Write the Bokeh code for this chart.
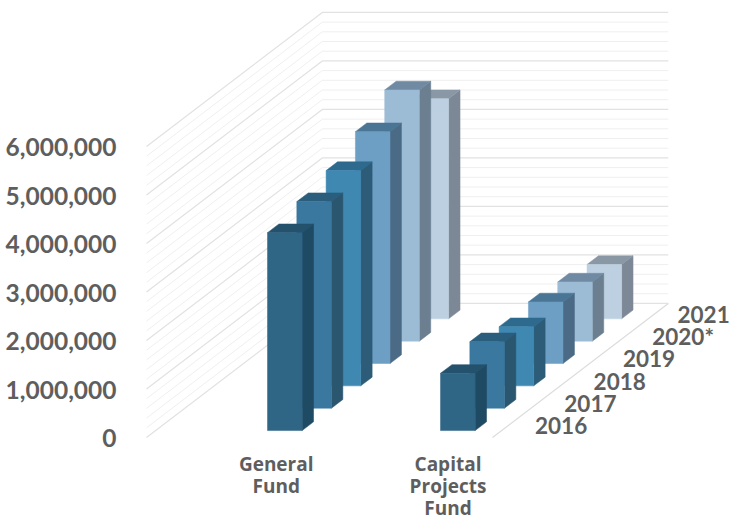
from bokeh.plotting import figure
from bokeh.models import Range1d
from bokeh.core.properties import value
from bokeh.embed import file_html
from bokeh.resources import INLINE

years = ["2016", "2017", "2018", "2019", "2020*", "2021"]
funds = [["General", "Fund"], ["Capital", "Projects", "Fund"]]
general_fund = [4080000, 4260000, 4440000, 4780000, 5180000, 4540000]
capital_projects_fund = [1180000, 1370000, 1220000, 1270000, 1220000, 1120000]
value_ticks = [0, 1000000, 2000000, 3000000, 4000000, 5000000, 6000000]
minor_step = 200000

front_colors = ["#2f6585", "#3a789f", "#3f88b2", "#6d9ec3", "#9cbcd5", "#bdd0e1"]
side_colors = ["#1f4a63", "#2a5670", "#2c5c78", "#4a6a85", "#6b7f91", "#7d8896"]
top_colors = ["#24516c", "#2b5d7d", "#2e6a8e", "#4a7595", "#6f8aa2", "#8a98a6"]

# oblique projection: u = category units, d = year-slot units, v = dollars
X0, Y0 = 146.0, 437.0
U_PX, DX, DY, V_PX = 173.0, 29.3, 22.35, 48.5e-6


def px(u, d):
    return X0 + u * U_PX + d * DX


def py(d, v):
    return Y0 - d * DY - v * V_PX


p = figure(width=730, height=521, x_range=Range1d(0, 730), y_range=Range1d(521, 0),
           output_backend="svg", toolbar_location=None, min_border=0,
           outline_line_color=None, background_fill_color="white")
p.axis.visible = False
p.grid.visible = False

# walls: gridlines
v = 0
n_slots = len(years)
while v <= value_ticks[-1]:
    major = v % 1000000 == 0
    color = "#e2e2e2" if major else "#efefef"
    p.line([px(0, 0), px(0, n_slots), px(2, n_slots)],
           [py(0, v), py(n_slots, v), py(n_slots, v)],
           line_color=color, line_width=1.3 if major else 1.0)
    v += minor_step

# floor edge
p.line([px(2, n_slots), px(2, 0)], [py(n_slots, 0), py(0, 0)], line_color="#dcdcdc", line_width=1.2)

# bars, back to front
BAR_U0, BAR_U1 = 0.647, 0.847
BAR_D0, BAR_D1 = 0.31, 0.70
for i in reversed(range(n_slots)):
    for c, series in enumerate([general_fund, capital_projects_fund]):
        val = series[i]
        u0, u1 = c + BAR_U0, c + BAR_U1
        d0, d1 = i + BAR_D0, i + BAR_D1
        p.patch([px(u1, d0), px(u1, d1), px(u1, d1), px(u1, d0)],
                [py(d0, 0), py(d1, 0), py(d1, val), py(d0, val)],
                fill_color=side_colors[i], line_color=side_colors[i], line_width=0.5)
        p.patch([px(u0, d0), px(u1, d0), px(u1, d1), px(u0, d1)],
                [py(d0, val), py(d0, val), py(d1, val), py(d1, val)],
                fill_color=top_colors[i], line_color=top_colors[i], line_width=0.5)
        p.patch([px(u0, d0), px(u1, d0), px(u1, d0), px(u0, d0)],
                [py(d0, 0), py(d0, 0), py(d0, val), py(d0, val)],
                fill_color=front_colors[i], line_color=front_colors[i], line_width=0.5)

FONT = value("Lato")
INK = "#5e5e5e"

# value labels
p.text([116] * len(value_ticks), [py(0, t) + 0.5 for t in value_ticks],
       text=[f"{t:,}" for t in value_ticks], text_align="right", text_baseline="middle",
       text_font=FONT, text_font_style="bold", text_font_size="24.5px", text_color=INK)

# year labels
year_nudge = [0, 0, 0, 0, 0, -4]
p.text([px(2, i) + 42.5 + year_nudge[i] for i in range(n_slots)],
       [py(i + 0.5, 0) - 0.5 for i in range(n_slots)],
       text=years, text_align="left", text_baseline="middle",
       text_font=FONT, text_font_style="bold", text_font_size="22.5px", text_color=INK)

# category labels
label_x = [275.7, 447.5]
for c, lines in enumerate(funds):
    p.text([label_x[c]] * len(lines), [463 + 22.4 * k for k in range(len(lines))],
           text=lines, text_align="center", text_baseline="middle",
           text_font=value("Open Sans"), text_font_style="bold", text_font_size="19px", text_color=INK)

open("out.html", "w").write(file_html(p, INLINE))
